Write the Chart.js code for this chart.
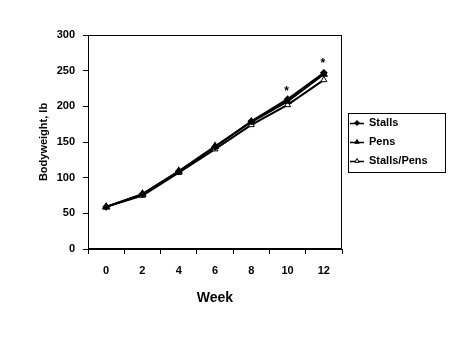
<!DOCTYPE html>
<html><head><meta charset="utf-8">
<script src="https://cdn.jsdelivr.net/npm/chart.js@4/dist/chart.umd.min.js"></script>
<style>html,body{margin:0;padding:0;background:#fff}#wrap{width:475px;height:356px}</style>
</head><body><div id="wrap"><canvas id="c" width="475" height="356"></canvas></div>
<script>
const weeks = ['0','2','4','6','8','10','12'];
const stalls = [59, 77, 109, 143, 179, 210, 247];
const pens = [59, 77, 109, 144, 178, 207, 245];
const stallsPens = [59, 75, 107, 140, 174, 202, 237];
const starWeeks = ['10','12'];
const starValues = [224, 262];
const yTicks = [0, 50, 100, 150, 200, 250, 300];

const FONT = '"Liberation Sans", Arial, sans-serif';

const legendPlugin = {
  id: 'boxLegend',
  afterDraw(chart) {
    const ctx = chart.ctx;
    const x0 = 348, y0 = 113, w = 97, h = 59;
    ctx.save();
    ctx.strokeStyle = '#000'; ctx.lineWidth = 1;
    ctx.strokeRect(x0 + 0.5, y0 + 0.5, w, h);
    ctx.font = 'bold 11px ' + FONT;
    ctx.textBaseline = 'middle'; ctx.textAlign = 'left';
    chart.data.datasets.forEach((ds, i) => {
      const y = y0 + 10 + i * 19;
      ctx.beginPath(); ctx.moveTo(x0 + 2, y + 0.5); ctx.lineTo(x0 + 16, y + 0.5);
      ctx.lineWidth = 1.5; ctx.strokeStyle = '#000'; ctx.stroke();
      ctx.fillStyle = ds.backgroundColor; ctx.strokeStyle = '#000'; ctx.lineWidth = 1;
      Chart.helpers.drawPoint(ctx, {pointStyle: ds.pointStyle, radius: 2.5, borderWidth: 1, rotation: 0}, x0 + 9, y);
      ctx.fillStyle = '#000';
      ctx.fillText(ds.label, x0 + 21, y);
    });
    ctx.restore();
  }
};
const starPlugin = {
  id: 'stars',
  afterDatasetsDraw(chart) {
    const ctx = chart.ctx, xs = chart.scales.x, ys = chart.scales.y;
    ctx.save();
    ctx.font = 'bold 12px ' + FONT; ctx.fillStyle = '#000';
    ctx.textAlign = 'center'; ctx.textBaseline = 'middle';
    starWeeks.forEach((wk, i) => {
      const x = xs.getPixelForValue(weeks.indexOf(wk)) - 1;
      const y = ys.getPixelForValue(starValues[i]);
      ctx.fillText('*', x, y + 2);
    });
    ctx.restore();
  }
};
const borderPlugin = {
  id: 'frame',
  afterDraw(chart) {
    const a = chart.chartArea, ctx = chart.ctx;
    ctx.save(); ctx.strokeStyle = '#000'; ctx.lineWidth = 1;
    ctx.strokeRect(Math.round(a.left) + 0.5, Math.round(a.top) + 0.5, Math.round(a.right - a.left) - 1, Math.round(a.bottom - a.top) - 1);
    ctx.restore();
  }
};

new Chart(document.getElementById('c'), {
  type: 'line',
  data: {
    labels: weeks,
    datasets: [
      {label: 'Stalls', data: stalls, pointStyle: 'rectRot', pointRadius: 2.5, backgroundColor: '#000', borderColor: '#000', borderWidth: 2},
      {label: 'Pens', data: pens, pointStyle: 'triangle', pointRadius: 3, backgroundColor: '#000', borderColor: '#000', borderWidth: 2},
      {label: 'Stalls/Pens', data: stallsPens, pointStyle: 'triangle', pointRadius: 3.5, backgroundColor: '#fff', borderColor: '#000', borderWidth: 2, pointBorderWidth: 1}
    ]
  },
  options: {
    responsive: false, animation: false, devicePixelRatio: 1,
    layout: {padding: {left: 37, top: 35, right: 133, bottom: 49}},
    elements: {line: {tension: 0}},
    plugins: {legend: {display: false}, tooltip: {enabled: false}},
    scales: {
      x: {
        offset: true,
        grid: {display: true, drawOnChartArea: false, offset: true, tickLength: 5, color: '#000', tickColor: '#000'},
        border: {color: '#000', width: 1},
        ticks: {color: '#000', font: {family: FONT, size: 11, weight: 'bold'}, padding: 10, maxRotation: 0},
        title: {display: true, text: 'Week', color: '#000', font: {family: FONT, size: 14, weight: 'bold'}, padding: {top: 6, bottom: 0}},
        afterFit(s) { s.height = 58; }
      },
      y: {
        min: 0, max: 300,
        afterBuildTicks(s) { s.ticks = yTicks.map(v => ({value: v})); },
        grid: {display: true, drawOnChartArea: false, tickLength: 5, color: '#000', tickColor: '#000'},
        border: {color: '#000', width: 1},
        ticks: {color: '#000', font: {family: FONT, size: 11, weight: 'bold'}, padding: 8},
        title: {display: true, text: 'Bodyweight, lb', color: '#000', font: {family: FONT, size: 11, weight: 'bold'}, padding: {top: 0, bottom: 4}},
        afterFit(s) { s.width = 51; }
      }
    }
  },
  plugins: [starPlugin, borderPlugin, legendPlugin]
});
</script></body></html>
